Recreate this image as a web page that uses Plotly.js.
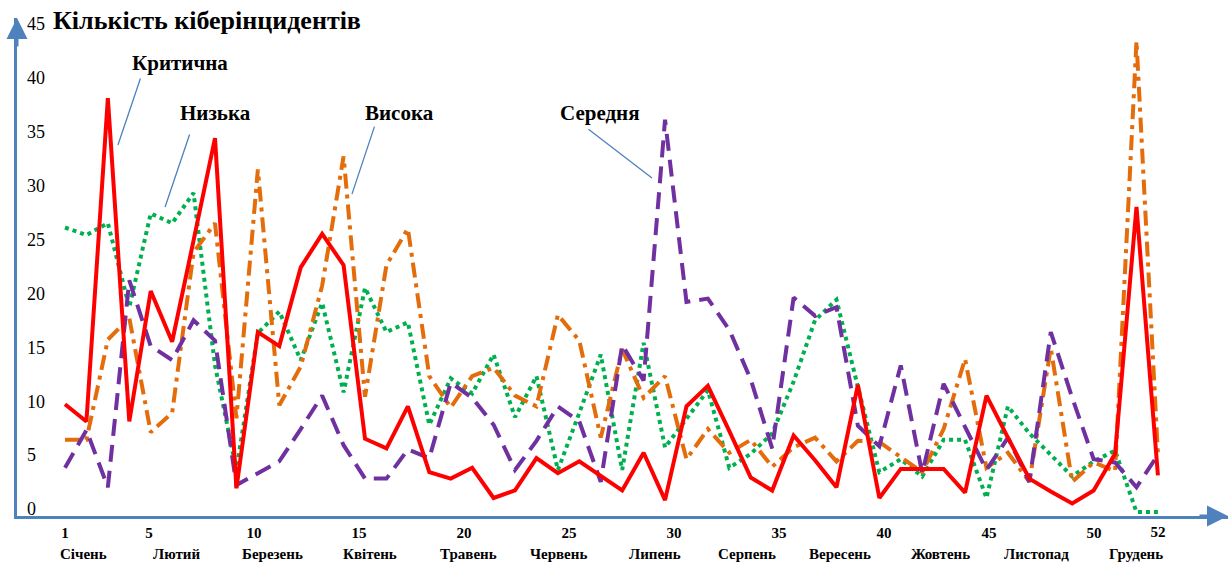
<!DOCTYPE html>
<html>
<head>
<meta charset="utf-8">
<script src="https://cdn.plot.ly/plotly-3.0.1.min.js"></script>
<style>
html,body{margin:0;padding:0;background:#ffffff;}
#chart{width:1230px;height:565px;}
</style>
</head>
<body>
<div id="chart"></div>
<script>
// ---- data (weeks of the year) ----
const weeks = [1,2,3,4,5,6,7,8,9,10,11,12,13,14,15,16,17,18,19,20,21,22,23,24,25,26,
               27,28,29,30,31,32,33,34,35,36,37,38,39,40,41,42,43,44,45,46,47,48,49,50,51,52];

const critical = [10.0, 8.4, 38.4, 8.4, 20.5, 15.8, 25.2, 34.7, 2.2, 16.7,
                  15.4, 22.7, 25.8, 22.9, 6.8, 5.9, 9.8, 3.7, 3.1, 4.1,
                  1.3, 2.0, 5.0, 3.6, 4.7, 3.3, 2.0, 5.5, 1.1, 9.8,
                  11.7, 7.5, 3.2, 2.0, 7.1, 4.8, 2.3, 11.8, 1.3, 4.0,
                  4.0, 4.0, 1.8, 10.8, 6.9, 3.1, 1.9, 0.8, 2.0, 5.4,
                  28.3, 3.4];

const low = [26.4, 25.7, 26.8, 19.0, 27.7, 26.8, 29.6, 13.6, 3.9, 16.6,
             18.6, 14.1, 19.4, 11.1, 20.8, 16.7, 17.6, 8.1, 12.4, 11.0,
             14.6, 8.8, 12.6, 3.9, 9.2, 14.6, 3.9, 15.7, 6.0, 8.7,
             11.3, 4.1, 5.4, 7.3, 12.1, 17.8, 19.7, 11.6, 3.7, 4.9,
             3.3, 6.7, 6.7, 1.3, 9.8, 7.3, 5.3, 3.3, 4.7, 5.7,
             0, 0];

const high = [6.7, 6.7, 16.0, 18.0, 7.4, 9.2, 24.1, 26.8, 8.7, 31.8,
              9.9, 13.5, 21.0, 33.0, 10.7, 22.9, 26.3, 12.6, 9.7, 12.6,
              13.4, 10.8, 9.8, 18.3, 15.9, 6.9, 15.1, 10.6, 12.6, 4.9,
              7.7, 5.5, 6.7, 4.2, 6.0, 6.9, 4.7, 6.6, 6.5, 5.1,
              3.7, 7.7, 14.2, 4.1, 5.5, 2.8, 15.2, 2.8, 4.6, 3.8,
              43.7, 5.4];

const medium = [4.1, 7.6, 2.3, 21.5, 15.4, 14.1, 17.8, 15.9, 2.5, 3.6,
                4.7, 7.7, 10.8, 6.2, 3.1, 3.1, 5.8, 5.0, 12.0, 10.6,
                8.1, 3.9, 6.6, 9.8, 8.4, 2.8, 15.5, 12.2, 36.4, 19.5,
                19.8, 16.9, 12.3, 5.9, 19.9, 18.2, 19.0, 8.0, 6.1, 13.6,
                3.6, 11.9, 8.0, 3.9, 6.9, 2.8, 16.7, 10.6, 4.9, 4.6,
                2.3, 5.3];

const weekTicks = [1, 5, 10, 15, 20, 25, 30, 35, 40, 45, 50, 52];
const yTicks = [0, 5, 10, 15, 20, 25, 30, 35, 40, 45];
const months = ['Січень', 'Лютий', 'Березень', 'Квітень', 'Травень', 'Червень',
                'Липень', 'Серпень', 'Вересень', 'Жовтень', 'Листопад', 'Грудень'];
const monthWeek = [1.86, 6.33, 10.86, 15.52, 20.19, 24.48, 29.10, 33.48, 37.90, 42.67, 47.24, 52.00];

const seriesNames = ['Критична', 'Низька', 'Висока', 'Середня'];
const chartTitle = 'Кількість кіберінцидентів';

// ---- styles ----
const AXIS = '#4F81BD';
const SERIF = 'Liberation Serif';
const tickFontBold = {family: SERIF, size: 15, color: '#000', weight: 'bold'};

const lastWeek = weekTicks[weekTicks.length - 1];
const innerWeekTicks = weekTicks.slice(0, -1);

const traces = [
  {x: weeks, y: low, name: seriesNames[1], type: 'scatter', mode: 'lines',
   line: {color: '#00B050', width: 4, dash: 'dot'}, hoverinfo: 'skip'},
  {x: weeks, y: high, name: seriesNames[2], type: 'scatter', mode: 'lines',
   line: {color: '#E46C0A', width: 4, dash: '15px,6px,4px,6px'}, hoverinfo: 'skip'},
  {x: weeks, y: medium, name: seriesNames[3], type: 'scatter', mode: 'lines',
   line: {color: '#7030A0', width: 4, dash: '17px,9px'}, hoverinfo: 'skip'},
  {x: weeks, y: critical, name: seriesNames[0], type: 'scatter', mode: 'lines',
   line: {color: '#FF0000', width: 4}, hoverinfo: 'skip'},
  // carrier for the label axes
  {x: innerWeekTicks, y: innerWeekTicks.map(() => null), xaxis: 'x2', yaxis: 'y2', type: 'scatter',
   mode: 'lines', showlegend: false, hoverinfo: 'skip'}
];

const labelFont = {family: SERIF, size: 21, color: '#000', weight: 'bold'};
function callout(tipX, tipY, ax, ay) {
  return {xref: 'x', yref: 'y', x: tipX, y: tipY, ax: ax, ay: ay, text: '',
          showarrow: true, arrowhead: 0, arrowwidth: 1.3, arrowcolor: AXIS};
}
function label(txt, x, y) {
  return {xref: 'x', yref: 'y', x: x, y: y, text: txt, showarrow: false,
          xanchor: 'center', yanchor: 'middle', font: labelFont};
}

const annotations = [
  label(seriesNames[0], 6.37, 41.66),
  label(seriesNames[1], 8.0, 37.02),
  label(seriesNames[2], 16.63, 37.02),
  label(seriesNames[3], 25.96, 37.02),
  callout(3.47, 34.05, 23, -68),
  callout(5.67, 28.30, 25, -74),
  callout(14.39, 29.50, 23, -69),
  callout(28.39, 30.99, -65, -50),
  // axis arrowheads
  {xref: 'paper', yref: 'paper', x: 0, y: 1, ax: 0, ay: 30, text: '', showarrow: true,
   arrowhead: 2, arrowsize: 1.4, arrowwidth: 3, arrowcolor: AXIS},
  {xref: 'paper', yref: 'paper', x: 1, y: 0, ax: -30, ay: 0, text: '', showarrow: true,
   arrowhead: 2, arrowsize: 1.4, arrowwidth: 3, arrowcolor: AXIS}
];
months.forEach((m, i) => {
  annotations.push({xref: 'x2', yref: 'paper', x: monthWeek[i], y: 0, yanchor: 'top',
    yshift: -28, text: m, showarrow: false,
    font: {family: SERIF, size: 15, color: '#000', weight: 'bold'}});
});

const layout = {
  width: 1230, height: 565,
  margin: {l: 17, r: 2, t: 18, b: 49, pad: 0},
  paper_bgcolor: '#ffffff', plot_bgcolor: '#ffffff',
  showlegend: false,
  font: {family: SERIF, color: '#000'},
  title: {text: chartTitle, xref: 'container', yref: 'container', x: 53 / 1230, xanchor: 'left',
          y: 1 - 20 / 565, yanchor: 'middle',
          font: {family: SERIF, size: 26, color: '#000', weight: 'bold'}},
  xaxis: {range: [-1.24, 55.27], showline: true, linecolor: AXIS, linewidth: 3,
          showgrid: false, zeroline: false, ticks: '',
          tickmode: 'array', tickvals: [lastWeek], ticktext: [String(lastWeek)],
          tickfont: tickFontBold, ticklabelstandoff: 0},
  xaxis2: {overlaying: 'x', anchor: 'y', side: 'bottom', range: [-1.286, 56.38],
           tickmode: 'array', tickvals: innerWeekTicks, ticktext: innerWeekTicks.map(String),
           showline: false, showgrid: false, zeroline: false, ticks: '',
           tickfont: tickFontBold, ticklabelstandoff: 6},
  yaxis: {range: [-0.37, 45.84], showline: true, linecolor: AXIS, linewidth: 3,
          showgrid: false, zeroline: false, showticklabels: false, ticks: ''},
  yaxis2: {overlaying: 'y', anchor: 'free', position: 0, side: 'right',
           range: [-0.37, 45.84], tickmode: 'array', tickvals: yTicks,
           showline: false, showgrid: false, zeroline: false, ticks: '',
           tickfont: {family: SERIF, size: 18, color: '#000'}, ticklabelstandoff: 9,
           ticklabelshift: -3},
  annotations: annotations
};

Plotly.newPlot('chart', traces, layout, {displayModeBar: false, staticPlot: true});
</script>
</body>
</html>
